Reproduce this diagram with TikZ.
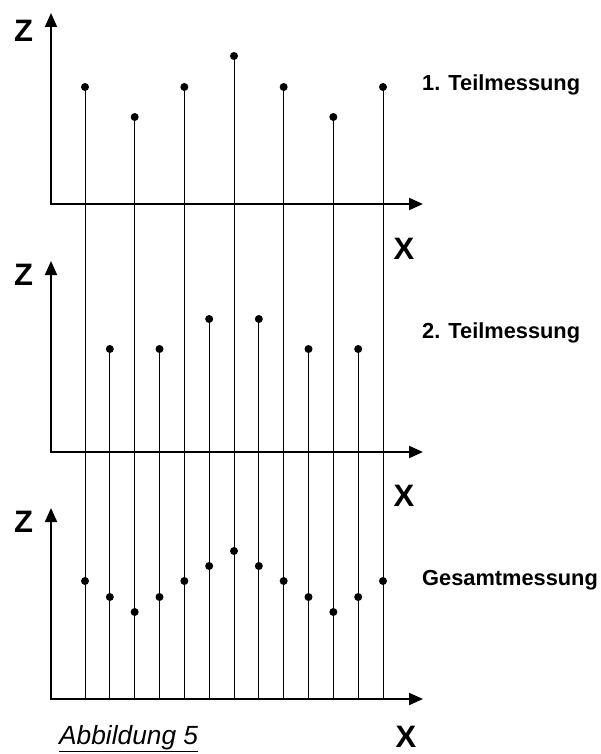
\documentclass[tikz,border=0pt]{standalone}
\usepackage{fontspec}
\setmainfont{Liberation Sans}
\usetikzlibrary{arrows.meta}
\begin{document}
\begin{tikzpicture}[x=1pt,y=-1pt,
  axis/.style={line width=2pt,{Triangle[length=14pt,width=12pt]}-{Triangle[length=14pt,width=12pt]}},
  stem/.style={line width=1pt},
  dot/.style={circle,fill=black,inner sep=0pt,minimum size=8pt},
  axlabel/.style={font=\fontsize{31}{36}\selectfont\bfseries,inner sep=0pt},
  title/.style={font=\fontsize{21.8}{25}\selectfont\bfseries,anchor=base west,inner sep=0pt}]
\useasboundingbox (0,0) rectangle (600,754);
% axes
\foreach \k/\b in {1/204,2/452,3/699}{
  \coordinate (o\k) at (51,\b);
  \coordinate (zt\k) at (51,\b-191);
  \coordinate (xt\k) at (423,\b);
  \draw[axis] (zt\k) -- (o\k) -- (xt\k);
}
% axis labels
\node[axlabel] (z1) at (23.5,31) {Z};
\node[axlabel] (z2) at (23.5,275) {Z};
\node[axlabel] (z3) at (23.5,522) {Z};
\node[axlabel] (x1) at (404,249) {X};
\node[axlabel] (x2) at (404,496) {X};
\node[axlabel] (x3) at (406,737) {X};
% 1. Teilmessung
\foreach \i/\y in {0/87,2/117,4/87,6/56,8/87,10/117,12/87}{
  \node[dot] (pa\i) at ({85+24.833*\i},\y) {};
  \coordinate (ba\i) at ({85+24.833*\i},699);
  \draw[stem] (pa\i.center) -- (ba\i);
}
% 2. Teilmessung
\foreach \i/\y in {1/349,3/349,5/319,7/319,9/349,11/349}{
  \node[dot] (pb\i) at ({85+24.833*\i},\y) {};
  \coordinate (bb\i) at ({85+24.833*\i},699);
  \draw[stem] (pb\i.center) -- (bb\i);
}
% Gesamtmessung
\foreach \i/\y in {0/581,1/597,2/612,3/597,4/581,5/566,6/551,7/566,8/581,9/597,10/612,11/597,12/581}{
  \node[dot] (pc\i) at ({85+24.833*\i},\y) {};
}
% titles
\node[title] (t1) at (422,91) {1. Teilmessung};
\node[title] (t2) at (422,338) {2. Teilmessung};
\node[title] (t3) at (422,585) {Gesamtmessung};
\node[font=\fontsize{26.3}{30}\selectfont\itshape,anchor=base west,inner sep=0pt] (cap) at (59,744) {\underline{Abbildung 5}};
\end{tikzpicture}
\end{document}
